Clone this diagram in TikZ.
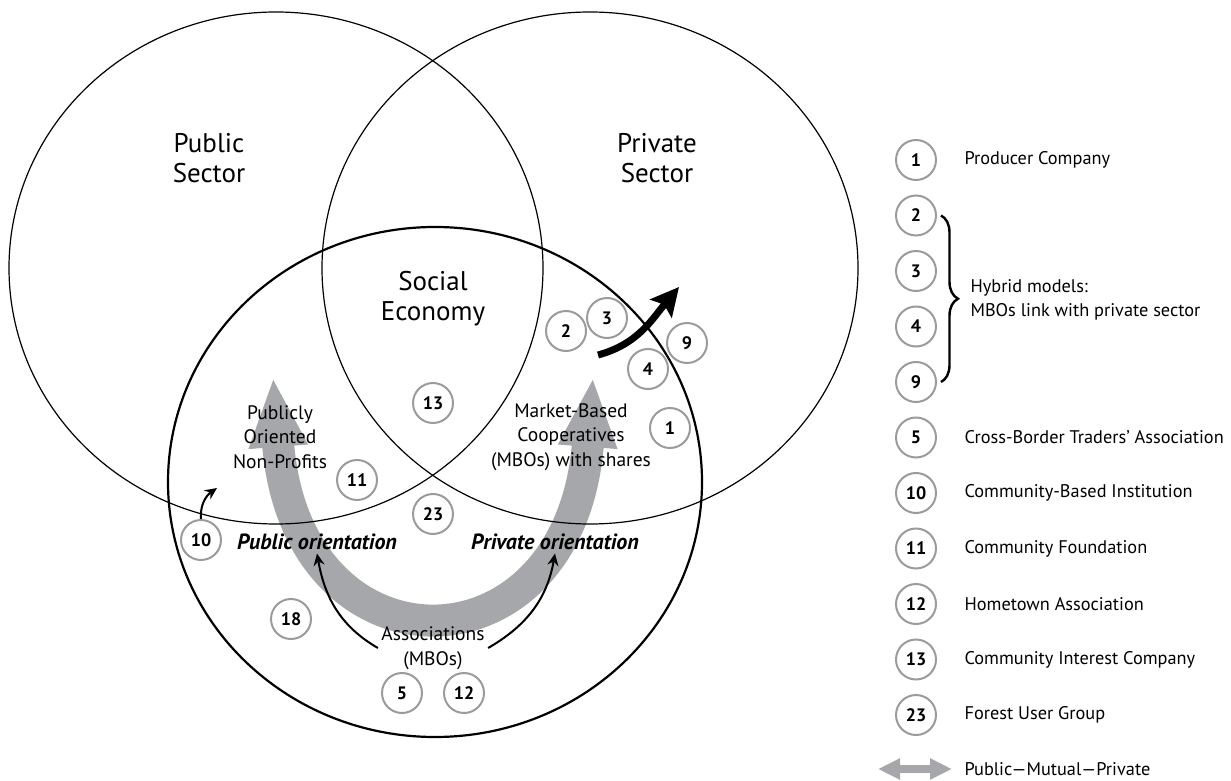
\documentclass[tikz,border=0pt]{standalone}
\usepackage{fontspec}
\setmainfont{PT Sans}
\usetikzlibrary{arrows.meta,decorations.pathreplacing,calc}

\definecolor{ringgray}{RGB}{155,155,155}
\definecolor{flowgray}{RGB}{166,167,170}

\tikzset{
  num/.style={circle,draw=ringgray,line width=2pt,minimum size=40pt,inner sep=0pt,font=\fontsize{18}{18}\selectfont\bfseries},
  sector/.style={align=center,font=\fontsize{27}{30}\selectfont},
  group/.style={align=center,font=\fontsize{19.5}{24.5}\selectfont},
  orient/.style={font=\fontsize{22}{22}\selectfont\bfseries\itshape},
  key/.style={anchor=west,align=left,font=\fontsize{18.3}{24}\selectfont},
  link/.style={line width=2pt,-{Stealth[length=12pt,width=11pt]}}
}

\begin{document}
\begin{tikzpicture}[x=1pt,y=1pt]
\useasboundingbox (0,0) rectangle (1231,780);

% wide grey band between the two orientations
\coordinate (pubtip) at (273,403);
\coordinate (privtip) at (593,403);
\draw [flowgray,line width=32pt,{Triangle[length=70pt,width=54pt]}-{Triangle[length=70pt,width=54pt]}]
  (pubtip) .. controls (296,100) and (570,100) .. (privtip);

% the three sectors
\draw [line width=1.2pt] (276,512) ellipse [x radius=267,y radius=256];
\draw [line width=1.2pt] (590,512) ellipse [x radius=268,y radius=256];
\draw [line width=2.2pt] (435,298) ellipse [x radius=267,y radius=255];

\node [sector] (pub) at (209,622) {Public\\Sector};
\node [sector] (priv) at (657,622) {Private\\Sector};
\node [sector] (social) at (433,481) {Social\\Economy};

\node [group] (pubnp) at (280,343) {Publicly\\Oriented\\Non-Profits};
\node [group] (mbo) at (571,343) {Market-Based\\Cooperatives\\(MBOs) with shares};
\node [group] (assoc) at (433,132) {Associations\\(MBOs)};
\node [orient] (pubor) at (317,238) {Public orientation};
\node [orient] (privor) at (555,238) {Private orientation};

% organisations placed in the diagram
\begin{scope}[every node/.style={num}]
  \node (n1) at (670,352) {1};
  \node (n2) at (566,449) {2};
  \node (n3) at (607,462) {3};
  \node (n4) at (648,411) {4};
  \node (n9) at (687,437) {9};
  \node (n5) at (402,87) {5};
  \node (n12) at (464,87) {12};
  \node (n10) at (201,240) {10};
  \node (n11) at (357,300) {11};
  \node (n13) at (433,377) {13};
  \node (n18) at (291,161) {18};
  \node (n23) at (433,266) {23};
\end{scope}

\coordinate (tip10) at (217,292);
\draw [link] (n10.north) to [out=95,in=215] (tip10);
\draw [link] (assoc.west) to [out=150,in=-80] (pubor.south);
\draw [link] (assoc.east) to [out=30,in=-100] (privor.south);

% hybrids move out towards the private sector
\coordinate (hyb0) at (598,425);
\coordinate (hyb1) at (679,493);
\draw [line width=7pt,-{Stealth[length=28pt,width=28pt,inset=5pt]}] (hyb0) to [out=15,in=230] (hyb1);

% legend
\foreach \n [count=\i from 0] in {1,2,3,4,9,5,10,11,12,13,23}
  \node [num] (l\n) at (916,620-55.5*\i) {\n};
\foreach \n/\txt in {1/Producer Company,5/Cross-Border Traders' Association,10/Community-Based Institution,11/Community Foundation,12/Hometown Association,13/Community Interest Company,23/Forest User Group}
  \node [key] (t\n) at ($(l\n)+(45,0)$) {\txt};

\draw [line width=2.4pt,decorate,decoration={brace,amplitude=17pt}] ($(l2.east)+(4,0)$) -- ($(l9.east)+(4,0)$);
\node [key] (hybrid) at (967,480) {Hybrid models:\\MBOs link with private sector};

\coordinate (kl) at (878,11);
\coordinate (kr) at (952,11);
\draw [flowgray,line width=8pt,{Triangle[length=22pt,width=20pt]}-{Triangle[length=22pt,width=20pt]}] (kl) -- (kr);
\node [key] (tkey) at (961,11) {Public---Mutual---Private};
\end{tikzpicture}
\end{document}
